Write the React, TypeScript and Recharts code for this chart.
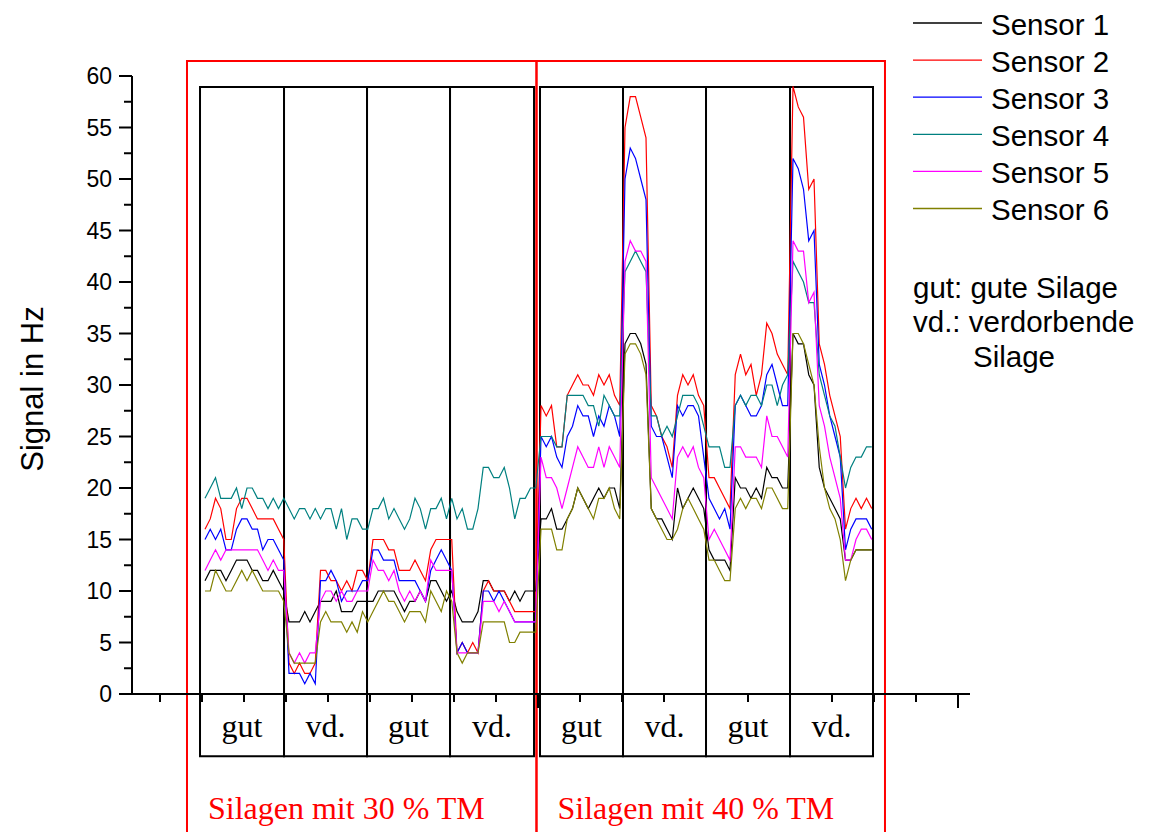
import React from 'react';
import { LineChart, Line, XAxis, YAxis, ReferenceArea, Legend } from 'recharts';

// Sensor signals in Hz, 16 readings per panel, 8 panels
// (gut, vd., gut, vd. at 30 % TM, then gut, vd., gut, vd. at 40 % TM).
const sensor1 = [
  11, 12, 12, 12, 11, 12, 13, 13, 13, 12, 12, 11, 11, 12, 11, 10,
  7, 7, 7, 8, 7, 8, 9, 9, 9, 10, 8, 8, 8, 9, 9, 9,
  9, 10, 10, 10, 10, 9, 8, 9, 9, 10, 9, 11, 11, 10, 9, 10,
  8, 7, 7, 7, 8, 11, 11, 10, 10, 10, 9, 10, 9, 10, 10, 10,
  17, 17, 18, 16, 16, 17, 18, 20, 19, 18, 19, 20, 19, 20, 20, 18,
  34, 35, 35, 34, 32, 18, 17, 17, 16, 15, 20, 18, 19, 20, 19, 18,
  14, 13, 13, 13, 12, 21, 20, 20, 19, 20, 19, 22, 21, 21, 20, 20,
  35, 34, 34, 31, 30, 22, 20, 19, 18, 17, 13, 13, 14, 14, 14, 14,
];
const sensor2 = [
  16, 17, 19, 18, 15, 15, 18, 19, 19, 18, 17, 17, 17, 17, 16, 15,
  3, 2, 3, 2, 2, 3, 12, 12, 11, 11, 10, 11, 10, 12, 12, 11,
  15, 15, 15, 14, 14, 12, 12, 12, 13, 12, 11, 14, 15, 15, 15, 15,
  4, 5, 4, 5, 4, 10, 11, 10, 10, 10, 9, 8, 8, 8, 8, 8,
  28, 27, 28, 24, 24, 29, 30, 31, 30, 30, 29, 31, 30, 31, 29, 28,
  55, 58, 58, 56, 54, 28, 27, 25, 24, 22, 29, 31, 30, 31, 29, 28,
  21, 21, 20, 19, 18, 31, 33, 31, 32, 29, 31, 36, 35, 33, 32, 31,
  59, 57, 56, 49, 50, 34, 32, 29, 27, 25, 16, 18, 19, 18, 19, 18,
];
const sensor3 = [
  15, 16, 15, 16, 14, 14, 16, 17, 17, 16, 16, 14, 15, 15, 14, 13,
  2, 2, 2, 1, 2, 1, 11, 11, 12, 11, 9, 10, 10, 10, 11, 11,
  14, 14, 13, 13, 13, 11, 11, 11, 11, 10, 9, 12, 13, 14, 13, 12,
  4, 5, 4, 4, 4, 10, 10, 9, 10, 9, 8, 7, 7, 7, 7, 7,
  25, 24, 25, 23, 22, 25, 26, 28, 27, 27, 25, 27, 26, 28, 27, 25,
  50, 53, 52, 50, 48, 26, 25, 25, 23, 21, 28, 27, 28, 28, 27, 23,
  19, 18, 17, 18, 16, 28, 29, 28, 27, 27, 28, 31, 32, 30, 28, 28,
  52, 51, 49, 44, 45, 32, 30, 27, 25, 23, 14, 16, 17, 17, 17, 16,
];
const sensor4 = [
  19, 20, 21, 19, 19, 19, 20, 18, 20, 20, 19, 19, 18, 19, 18, 19,
  18, 17, 18, 18, 17, 18, 17, 18, 18, 16, 18, 15, 17, 17, 16, 16,
  18, 18, 19, 17, 18, 17, 16, 17, 19, 18, 16, 18, 18, 19, 17, 19,
  17, 18, 16, 16, 18, 22, 22, 21, 21, 22, 20, 17, 19, 19, 20, 20,
  25, 25, 25, 24, 24, 29, 29, 29, 29, 28, 28, 26, 29, 28, 27, 27,
  41, 42, 43, 42, 41, 27, 27, 25, 26, 25, 27, 29, 29, 29, 28, 26,
  24, 24, 24, 22, 22, 28, 29, 28, 29, 29, 28, 30, 30, 28, 30, 31,
  42, 41, 40, 38, 38, 31, 29, 27, 26, 23, 20, 22, 23, 23, 24, 24,
];
const sensor5 = [
  12, 13, 14, 13, 14, 14, 14, 14, 14, 14, 14, 13, 12, 13, 12, 12,
  4, 3, 4, 3, 4, 4, 9, 10, 10, 9, 10, 9, 9, 10, 10, 10,
  13, 12, 12, 11, 12, 10, 9, 10, 9, 10, 9, 13, 12, 12, 12, 12,
  4, 4, 4, 4, 4, 9, 9, 9, 8, 9, 8, 7, 7, 7, 7, 7,
  23, 21, 21, 20, 18, 20, 22, 24, 23, 22, 22, 24, 22, 24, 23, 22,
  42, 44, 43, 43, 42, 21, 20, 19, 18, 17, 23, 24, 23, 24, 22, 21,
  15, 16, 15, 14, 13, 24, 24, 23, 23, 23, 22, 27, 25, 25, 24, 23,
  44, 43, 43, 38, 39, 28, 26, 23, 21, 19, 13, 13, 15, 16, 16, 15,
];
const sensor6 = [
  10, 10, 12, 11, 10, 10, 11, 12, 11, 12, 11, 10, 10, 10, 10, 9,
  4, 3, 3, 3, 3, 3, 7, 8, 7, 7, 7, 6, 7, 6, 8, 7,
  8, 9, 10, 9, 9, 8, 7, 8, 8, 8, 7, 10, 9, 8, 10, 9,
  4, 3, 4, 4, 4, 7, 7, 7, 7, 7, 5, 5, 6, 6, 6, 6,
  16, 16, 16, 14, 14, 17, 18, 20, 19, 18, 17, 19, 19, 20, 18, 17,
  33, 34, 34, 33, 31, 18, 17, 16, 15, 15, 16, 18, 19, 18, 17, 16,
  13, 13, 12, 11, 11, 18, 19, 18, 19, 19, 18, 20, 20, 19, 18, 18,
  35, 35, 34, 32, 30, 24, 20, 18, 17, 15, 11, 13, 14, 14, 14, 14,
];

const sensorNames = ['Sensor 1', 'Sensor 2', 'Sensor 3', 'Sensor 4', 'Sensor 5', 'Sensor 6'];
const sensorKeys = ['s1', 's2', 's3', 's4', 's5', 's6'];
const sensorColors = ['#000000', '#ff0000', '#0000ff', '#008080', '#ff00ff', '#808000'];
const sensorSeries = [sensor1, sensor2, sensor3, sensor4, sensor5, sensor6];

const panelLabels = ['gut', 'vd.', 'gut', 'vd.', 'gut', 'vd.', 'gut', 'vd.'];
// panel edges on the reading-index axis
const panelEdges = [
  [-0.95, 15.05], [15.05, 30.86], [30.86, 46.67], [46.67, 62.67],
  [63.81, 79.62], [79.62, 95.43], [95.43, 111.43], [111.43, 127.24],
];
const groupLabels = ['Silagen mit 30 % TM', 'Silagen mit 40 % TM'];
const groupEdges = [[-3.43, 63.14], [63.14, 129.52]];
const noteLines = ['gut: gute Silage', 'vd.: verdorbende', 'Silage'];

const yTicks = Array.from({ length: 25 }, (_, k) => k * 2.5);
const xTicks = Array.from({ length: 20 }, (_, k) => -8.571 + 8 * k);
const X_DOMAIN: [number, number] = [-13.905, 145.714];

const PANEL_TOP = 58.93;
const LABEL_BOTTOM = -6.05;
const FRAME_TOP = 61.46;
const FRAME_BOTTOM = -14.2;

const rows = sensor1.map((_, i) => {
  const r: Record<string, number> = { i };
  sensorKeys.forEach((k, s) => {
    r[k] = sensorSeries[s][i];
  });
  return r;
});

const SANS = "'Liberation Sans', Arial, Helvetica, sans-serif";
const SERIF = "'Liberation Serif', 'Times New Roman', serif";

const YTick = (props: any) => {
  const { x, y, payload } = props;
  const v = payload.value as number;
  const major = Math.abs(v % 5) < 1e-6;
  return (
    <g>
      <line x1={x - (major ? 13 : 8)} x2={x} y1={y} y2={y} stroke="#000" strokeWidth={2} />
      {major && (
        <text x={x - 20} y={y} textAnchor="end" dominantBaseline="central" fontSize={23} fontFamily={SANS} fill="#000">
          {v}
        </text>
      )}
    </g>
  );
};

const XTick = (props: any) => {
  const { x, y, index } = props;
  const major = index === 9 || index === 19;
  return <line x1={x} x2={x} y1={y} y2={y + (major ? 14 : 8)} stroke="#000" strokeWidth={2} />;
};

const panelCaption = (text: string) => (p: any) => {
  const vb = p.viewBox;
  return (
    <text
      x={vb.x + vb.width / 2}
      y={vb.y + vb.height / 2 + 1}
      textAnchor="middle"
      dominantBaseline="central"
      fontSize={32}
      fontFamily={SERIF}
      fill="#000"
    >
      {text}
    </text>
  );
};

const groupCaption = (text: string) => (p: any) => {
  const vb = p.viewBox;
  return (
    <text
      x={vb.x + 21}
      y={vb.y + vb.height - 32}
      dominantBaseline="central"
      fontSize={32}
      fontFamily={SERIF}
      fill="#ff0000"
    >
      {text}
    </text>
  );
};

const yTitle = (p: any) => {
  const vb = p.viewBox;
  const cx = 32;
  const cy = vb.y + vb.height / 2 + 4;
  return (
    <text
      x={cx}
      y={cy}
      transform={`rotate(-90 ${cx} ${cy})`}
      textAnchor="middle"
      dominantBaseline="central"
      fontSize={31}
      fontFamily={SANS}
      fill="#000"
    >
      Signal in Hz
    </text>
  );
};

const LegendBlock = () => (
  <svg width={247} height={380} style={{ display: 'block' }}>
    {sensorNames.map((name, k) => {
      const y = 23 + 37.1 * k;
      return (
        <g key={name}>
          <line x1={8} x2={77} y1={y} y2={y} stroke={sensorColors[k]} strokeWidth={1.3} />
          <text x={86} y={y + 1} dominantBaseline="central" fontSize={29.5} fontFamily={SANS} fill="#000">
            {name}
          </text>
        </g>
      );
    })}
    <text x={8} y={287} dominantBaseline="central" fontSize={29.5} fontFamily={SANS} fill="#000">
      {noteLines[0]}
    </text>
    <text x={8} y={321} dominantBaseline="central" fontSize={29.5} fontFamily={SANS} fill="#000">
      {noteLines[1]}
    </text>
    <text x={68} y={356} dominantBaseline="central" fontSize={29.5} fontFamily={SANS} fill="#000">
      {noteLines[2]}
    </text>
  </svg>
);

export default function App() {
  return (
    <div style={{ position: 'absolute', left: 0, top: 0, width: 1152, height: 832, background: '#fff', overflow: 'hidden' }}>
      <LineChart width={1152} height={832} data={rows} margin={{ top: 76, right: 182, bottom: 108, left: 0 }}>
        <XAxis
          type="number"
          dataKey="i"
          domain={X_DOMAIN}
          allowDataOverflow
          ticks={xTicks}
          interval={0}
          height={30}
          tickSize={0}
          tickMargin={0}
          tickLine={false}
          tick={<XTick />}
          axisLine={{ stroke: '#000', strokeWidth: 2 }}
        />
        <YAxis
          type="number"
          domain={[0, 60]}
          allowDataOverflow
          ticks={yTicks}
          interval={0}
          width={132}
          tickSize={0}
          tickMargin={0}
          tickLine={false}
          tick={<YTick />}
          axisLine={{ stroke: '#000', strokeWidth: 2 }}
          label={yTitle}
        />
        {groupEdges.map(([a, b], g) => (
          <ReferenceArea
            key={'frame' + g}
            x1={a}
            x2={b}
            y1={FRAME_BOTTOM}
            y2={FRAME_TOP}
            ifOverflow="visible"
            fill="none"
            stroke="#ff0000"
            strokeWidth={2}
            label={groupCaption(groupLabels[g])}
          />
        ))}
        {panelEdges.map(([a, b], k) => (
          <ReferenceArea
            key={'panel' + k}
            x1={a}
            x2={b}
            y1={0}
            y2={PANEL_TOP}
            ifOverflow="visible"
            fill="none"
            stroke="#000"
            strokeWidth={2}
          />
        ))}
        {panelEdges.map(([a, b], k) => (
          <ReferenceArea
            key={'cap' + k}
            x1={a}
            x2={b}
            y1={LABEL_BOTTOM}
            y2={0}
            ifOverflow="visible"
            fill="none"
            stroke="#000"
            strokeWidth={2}
            label={panelCaption(panelLabels[k])}
          />
        ))}
        {sensorKeys.map((k, s) => (
          <Line
            key={k}
            type="linear"
            dataKey={k}
            name={sensorNames[s]}
            stroke={sensorColors[s]}
            strokeWidth={1.2}
            dot={false}
            activeDot={false}
            isAnimationActive={false}
          />
        ))}
        <Legend
          layout="vertical"
          align="center"
          verticalAlign="middle"
          wrapperStyle={{ position: 'absolute', left: 905, top: 0, width: 247, height: 380 }}
          content={<LegendBlock />}
        />
      </LineChart>
    </div>
  );
}
